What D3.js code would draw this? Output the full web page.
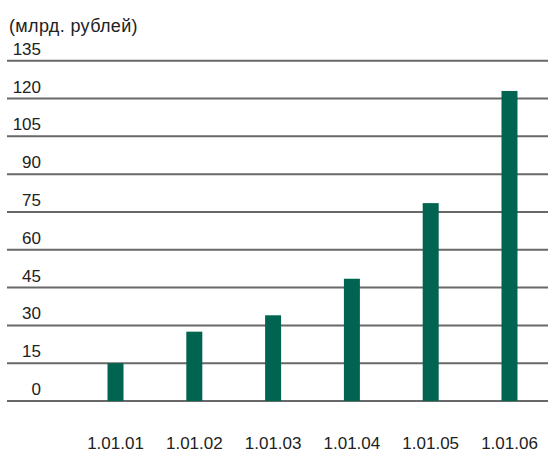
<!DOCTYPE html>
<html><head><meta charset="utf-8">
<script src="https://cdn.jsdelivr.net/npm/d3@7"></script>
<style>body{margin:0;background:#fff}svg{display:block}</style>
</head><body>
<script>
const categories = ["1.01.01","1.01.02","1.01.03","1.01.04","1.01.05","1.01.06"];
const values = [15, 27.5, 34, 48.5, 78.5, 123];
const yTicks = [0,15,30,45,60,75,90,105,120,135];
const unitLabel = "(млрд. рублей)";

const W = 548, H = 453;
const svg = d3.select("body").append("svg").attr("width", W).attr("height", H);
const font = "'Liberation Sans', Arial, Helvetica, sans-serif";

const y = d3.scaleLinear().domain([0,135]).range([401, 60.7]);
const x = d3.scaleBand().domain(categories).range([76, 549]).paddingInner(0.797).paddingOuter(0.4);

// gridlines
const g = svg.append("g");
g.selectAll("line.grid").data(yTicks).join("line")
  .attr("x1", 7).attr("x2", W)
  .attr("y1", d => y(d)).attr("y2", d => y(d))
  .attr("stroke", "#686868").attr("stroke-width", 2);
g.selectAll("text.yl").data(yTicks).join("text")
  .attr("x", 41).attr("y", d => y(d) - 6)
  .attr("text-anchor", "end")
  .attr("font-family", font).attr("font-size", 17).attr("fill", "#222")
  .text(d => d);

// bars
svg.append("g").selectAll("rect").data(values).join("rect")
  .attr("x", (d,i) => x(categories[i]))
  .attr("width", x.bandwidth())
  .attr("y", d => y(d))
  .attr("height", d => y(0) - y(d))
  .attr("fill", "#006450");

// x labels
const xAxis = d3.axisBottom(x).tickSize(0);
const xa = svg.append("g").attr("transform", "translate(0,436)").call(xAxis);
xa.select(".domain").remove();
xa.selectAll("text").attr("font-family", font).attr("font-size", 17).attr("fill", "#222").attr("dy", 0).attr("y", 13);

svg.append("text").attr("x", 9).attr("y", 31.5)
  .attr("font-family", font).attr("font-size", 18).attr("letter-spacing", 0.35).attr("fill", "#222")
  .text(unitLabel);
</script>
</body></html>
